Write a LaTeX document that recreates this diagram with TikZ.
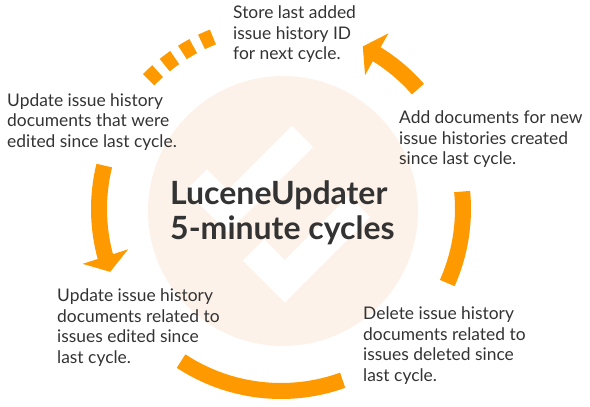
\documentclass[tikz,border=0pt]{standalone}
\usepackage{fontspec}
\setmainfont{Lato}
\usetikzlibrary{arrows.meta,bending}
\definecolor{orng}{RGB}{255,153,0}
\definecolor{peach}{RGB}{253,242,233}
\definecolor{txt}{RGB}{51,51,51}
\begin{document}
\begin{tikzpicture}[x=1pt,y=1pt,
  ring/.style={draw=orng, line width=16pt, line cap=butt},
  headtip/.style={-{Triangle[length=16pt,width=47pt,flex]}},
  body/.style={font=\fontsize{17.4}{20.5}\selectfont, text=txt, align=left, anchor=base west, inner sep=0pt},
  titletext/.style={font=\fontsize{32}{35}\selectfont\bfseries, text=txt, align=left, anchor=base west, inner sep=0pt},
  check/.style={draw=white, line width=30pt, line join=miter, line cap=butt}]
\useasboundingbox (0,0) rectangle (590,407);
\coordinate (C) at (281,198);
\node[circle, fill=peach, minimum size=270pt, inner sep=0pt] (bg) at (283,196) {};
\draw[check] (196.5,227) -- (227.75,195.75) -- (302.5,270.5);
\draw[check] (253.5,157) -- (284.75,125.75) -- (359.5,200.5);
% ring pieces
\coordinate (a1) at ([shift={(-24:182)}]C);
\draw[ring] (a1) arc[start angle=-24, end angle=5.5, radius=182];
\coordinate (a2) at ([shift={(41.2:182)}]C);
\draw[ring,headtip] (a2) arc[start angle=41.2, end angle=63.3, radius=182];
\coordinate (a3) at ([shift={(135.7:185)}]C);
\draw[ring, dash pattern=on 12.5pt off 9.3pt] (a3) arc[start angle=135.7, end angle=111.6, radius=185];
\coordinate (a4) at ([shift={(166.2:182)}]C);
\draw[ring,headtip] (a4) arc[start angle=166.2, end angle=200.2, radius=182];
\coordinate (a5) at ([shift={(236.7:182)}]C);
\draw[ring] (a5) arc[start angle=236.7, end angle=289.8, radius=182];
% texts (base anchor = baseline of last line)
\node[titletext] (title) at (170,167) {LuceneUpdater\\5-minute cycles};
\node[body] (store) at (233,347) {Store last added\\issue history ID\\for next cycle.};
\node[body] (add) at (399,242) {Add documents for new\\issue histories created\\since last cycle.};
\node[body] (edh) at (7,259.5) {Update issue history\\documents that were\\edited since last cycle.};
\node[body] (edi) at (57,43.5) {Update issue history\\documents related to\\issues edited since\\last cycle.};
\node[body] (del) at (363,25.5) {Delete issue history\\documents related to\\issues deleted since\\last cycle.};
\end{tikzpicture}
\end{document}
